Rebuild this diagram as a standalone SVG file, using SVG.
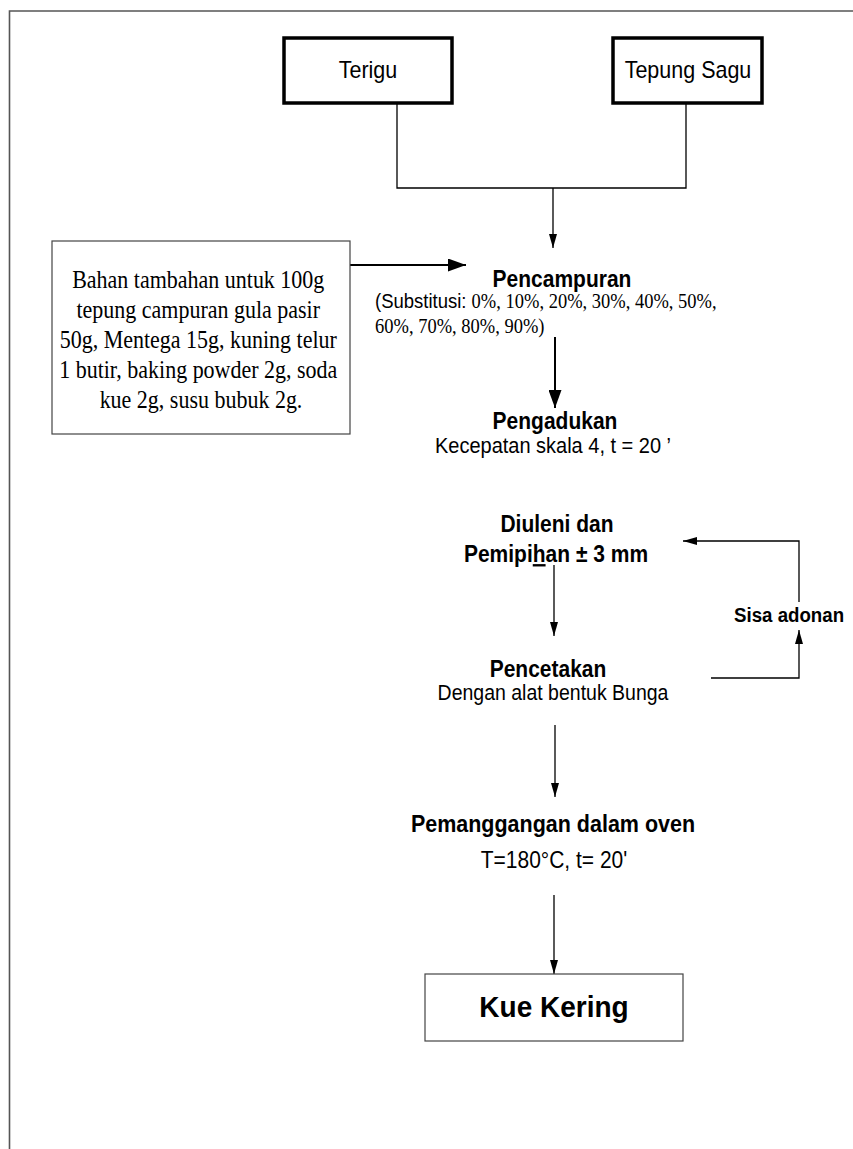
<svg xmlns="http://www.w3.org/2000/svg" width="853" height="1149" viewBox="0 0 853 1149">
<style>
.sans{font-family:"Liberation Sans",Arial,sans-serif;fill:#000}
.serif{font-family:"Liberation Serif","Times New Roman",serif;fill:#000}
.b{font-weight:bold}
.c{text-anchor:middle}
.thickbox{fill:#fff;stroke:#000;stroke-width:3.5}
.thinbox{fill:#fff;stroke:#444;stroke-width:1.2}
.ln{fill:none;stroke:#000;stroke-width:1.3}
.lnb{fill:none;stroke:#000;stroke-width:2}
.frame{fill:none;stroke:#555;stroke-width:1.6}
</style>
<defs>
<marker id="ah" markerUnits="userSpaceOnUse" markerWidth="14" markerHeight="8" refX="14" refY="4" orient="auto">
<path d="M0,0 L14,4 L0,8 z" fill="#000"/>
</marker>
<marker id="ahb" markerUnits="userSpaceOnUse" markerWidth="18" markerHeight="13" refX="18" refY="6.5" orient="auto">
<path d="M0,0 L18,6.5 L0,13 z" fill="#000"/>
</marker>
</defs>
<rect width="853" height="1149" fill="#fff"/>
<g id="frame">
<path class="frame" d="M9.5,1149 L9.5,11 L853,11"/>
</g>
<g id="connectors">
<path class="ln" d="M397,104 L397,188 L686,188 L686,104"/>
<path class="ln" d="M553,188 L553,248" marker-end="url(#ah)"/>
<path class="lnb" d="M350,265 L466,265" marker-end="url(#ahb)"/>
<path class="lnb" d="M555,337 L555,408" marker-end="url(#ahb)"/>
<path class="ln" d="M554,565 L554,636" marker-end="url(#ah)"/>
<path class="ln" d="M799,602 L799,541 L683,541" marker-end="url(#ah)"/>
<path class="ln" d="M711,678 L799,678 L799,630" marker-end="url(#ah)"/>
<path class="ln" d="M555,725 L555,797" marker-end="url(#ah)"/>
<path class="ln" d="M554,895 L554,974" marker-end="url(#ah)"/>
</g>
<g id="terigu">
<rect class="thickbox" x="284" y="38" width="168" height="65"/>
<text class="sans c" transform="translate(368,78) scale(1,1.12)" font-size="21.5">Terigu</text>
</g>
<g id="tepung-sagu">
<rect class="thickbox" x="613" y="38" width="149" height="65"/>
<text class="sans c" transform="translate(688,78) scale(1,1.12)" font-size="21.5">Tepung Sagu</text>
</g>
<g id="bahan">
<rect class="thinbox" x="52" y="241" width="298" height="193"/>
<text class="serif c" font-size="22" transform="translate(201,288) scale(1,1.1)">
<tspan x="0" y="0">Bahan tambahan untuk 100g</tspan>
<tspan x="0" y="27.27">tepung campuran gula pasir</tspan>
<tspan x="0" y="54.55">50g, Mentega 15g, kuning telur</tspan>
<tspan x="0" y="81.82">1 butir, baking powder 2g, soda</tspan>
<tspan x="0" y="109.09">kue 2g, susu bubuk 2g.</tspan>
</text>
</g>
<g id="pencampuran">
<text class="sans b c" transform="translate(562,287) scale(1,1.12)" font-size="21">Pencampuran</text>
<text transform="translate(375,308) scale(1,1.1)" font-size="18.5"><tspan class="sans">(Substitusi: </tspan><tspan class="serif">0%, 10%, 20%, 30%, 40%, 50%,</tspan></text>
<text class="serif" transform="translate(375,333) scale(1,1.1)" font-size="18.5">60%, 70%, 80%, 90%)</text>
</g>
<g id="pengadukan">
<text class="sans b c" transform="translate(555,429) scale(1,1.12)" font-size="21">Pengadukan</text>
<text class="sans c" transform="translate(553,453) scale(1,1.08)" font-size="20">Kecepatan skala 4, t = 20 ’</text>
</g>
<g id="diuleni">
<text class="sans b c" transform="translate(557,532) scale(1,1.12)" font-size="21">Diuleni dan</text>
<text class="sans b c" transform="translate(556,562) scale(1,1.12)" font-size="21">Pemipi<tspan text-decoration="underline">h</tspan>an ± 3 mm</text>
</g>
<g id="sisa-adonan">
<text class="sans b" transform="translate(734,622) scale(1,1.12)" font-size="18.7">Sisa adonan</text>
</g>
<g id="pencetakan">
<text class="sans b c" transform="translate(548,677) scale(1,1.12)" font-size="21">Pencetakan</text>
<text class="sans c" transform="translate(553,700) scale(1,1.1)" font-size="19.5">Dengan alat bentuk Bunga</text>
</g>
<g id="pemanggangan">
<text class="sans b c" transform="translate(553,832) scale(1,1.12)" font-size="21.5">Pemanggangan dalam oven</text>
<text class="sans c" transform="translate(554,868) scale(1,1.12)" font-size="21">T=180°C, t= 20'</text>
</g>
<g id="kue-kering">
<rect class="thinbox" x="425" y="974" width="258" height="67"/>
<text class="sans b c" transform="translate(554,1017) scale(1,1.08)" font-size="28">Kue Kering</text>
</g>
</svg>
